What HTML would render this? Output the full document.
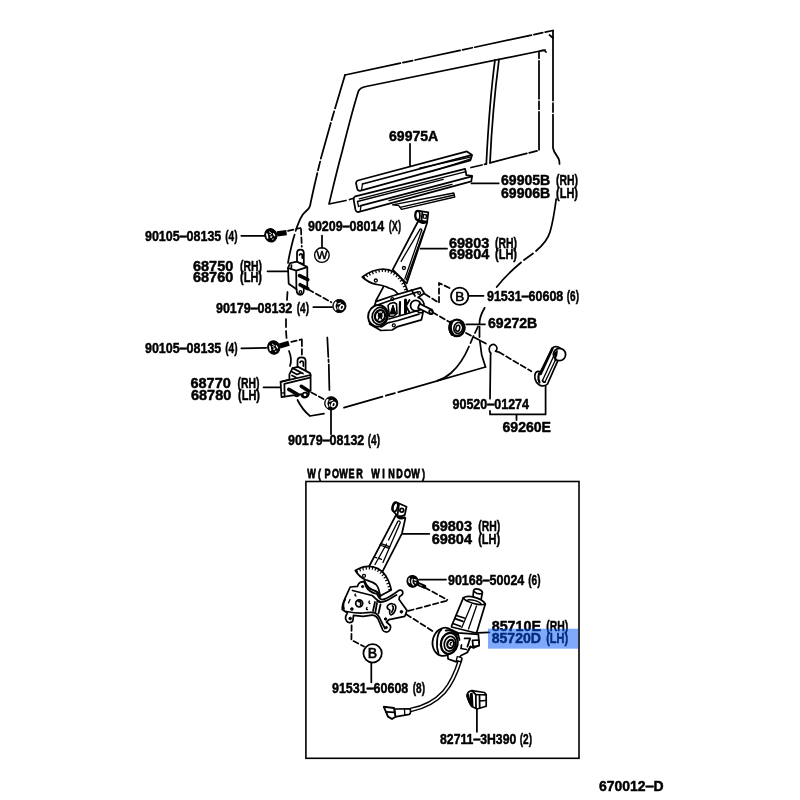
<!DOCTYPE html>
<html lang="en">
<head>
<meta charset="utf-8">
<title>Rear door window regulator &amp; hinge – parts diagram 670012-D</title>
<style>
html,body{margin:0;padding:0;background:#fff;}
body{width:800px;height:800px;overflow:hidden;font-family:"Liberation Sans",sans-serif;}
svg{display:block;will-change:transform;}
.t{font-family:"Liberation Sans",sans-serif;font-weight:bold;font-size:13.8px;fill:#000;stroke:#000;stroke-width:.45px;stroke-linejoin:round;}
.m{font-family:"Liberation Sans",sans-serif;font-weight:bold;font-size:13.7px;fill:#000;stroke:#000;stroke-width:.8px;}
.l{fill:none;stroke:#000;stroke-width:1.75;stroke-linecap:round;stroke-linejoin:round;}
.th{fill:none;stroke:#000;stroke-width:1.3;stroke-linecap:round;stroke-linejoin:round;}
.k{fill:none;stroke:#000;stroke-width:2.2;stroke-linecap:round;stroke-linejoin:round;}
.w{fill:#fff;stroke:#000;stroke-width:1.75;stroke-linejoin:round;stroke-linecap:round;}
.b{fill:#000;stroke:#000;stroke-width:1;stroke-linejoin:round;}
</style>
</head>
<body>
<svg width="800" height="800" viewBox="0 0 800 800">
<rect x="0" y="0" width="800" height="800" fill="#fff"/>

<!-- ===== highlight ===== -->


<!-- ===== DOOR OUTLINE ===== -->
<g id="door" class="l">
<!-- outer top -->
<path d="M553,30.5 L345,75" stroke-dasharray="8 2.5 9 2.5 58 2.5 10 2.5 46 2.5 10 2.5 100"/>
<!-- outer left upper -->
<path d="M345,75 C338,98 328,132 321,158 C316,178 312,196 310,206 C309,210 305,211 302.5,215 C298,222 296,230 293,240 C291,248 289,256 288,263" stroke-dasharray="35 3 9 3 37 3 9 3 63 4 200"/>
<!-- left between hinges -->
<path d="M287.5,292 L287,300 M286,319 L286,327 M286,331 L286.5,338"/>
<path d="M289,351 C291,356 291.5,362 290,366"/>
<!-- bottom-left corner -->
<path d="M297.5,400 C301,407 305,412 310,416 L324,413.7"/>
<!-- bottom -->
<path d="M344,407.7 L485.5,367" stroke-dasharray="40 3.5 9.5 3.5 300"/>
<!-- right lower -->
<path d="M485.5,367 L481.7,355 L479.7,340 M479.5,337 L479.5,326.5 M479.5,323.5 C479.5,318 481.5,313 484.7,307.7"/>
<path d="M478,326.5 L475,333 M473.5,336 L470.5,343 M469,346.5 C465,356 459,366 451,373 C447,376.5 443,379 437.5,380.7" />
<!-- right side -->
<path d="M553,30.5 L553,148 C554,154 558.5,156 559.3,161 L559.5,164" stroke-dasharray="70 2.5 9 2.5"/>
<path d="M556.2,199 C554.5,212 553,222 550,232 C548,239 543,245 536,251"/>
<path d="M533,253.5 L524,260 M521,262.5 C512,270 503,279 496.7,287"/>
<path d="M549.5,35 L553,38"/>
<!-- inner window frame -->
<path d="M545,50 L366,86.5 C362,87.3 360,88 358.5,91 C353,108 347,132 342,152 C337,170 332,192 329,204 L346,200.5 M349.5,199.5 L354.5,198" />
<path d="M471,167.5 L482,165 M484.5,164.3 L486.5,163.8"/>
<path d="M495,60 C491,90 488,130 486.3,164"/>
<path d="M499,59.5 C495,90 491.5,130 490,162.8"/>
<path d="M490,162.8 L539,150.3 L539,52.5" stroke-dasharray="38 2.5 8 2.5"/>
<path d="M540,51 C543,50 545,50.5 546,52"/>
</g>

<!-- ===== LEADERS ===== -->
<g id="leaders" class="l">
<path d="M410,143.8 L410,165.5"/>
<path d="M471.5,183.4 L498.7,183.4"/>
<path d="M420.5,248.7 L447,248.7"/>
<circle cx="459.7" cy="296.3" r="8.7"/>
<path d="M468.6,295.8 L483.5,295.8"/>
<path d="M466.3,324.3 L485,324.3"/>
<path d="M490.6,353.7 L490,398.7 M490,410.8 L490,414.4 L545.6,414.4 L545.6,385.5 M516.5,414.4 L516.5,420"/>
<path d="M322,235.6 L322,247.8"/>
<circle cx="321.9" cy="255.1" r="7.3" style="stroke-width:1.4"/>
<path d="M241.3,235.8 L264.8,235.8"/>
<path d="M267.5,271.3 L287.5,271.3"/>
<path d="M313.3,307 L332,307"/>
<path d="M241.3,348.3 L266.2,347.8"/>
<path d="M263.5,387.3 L281.5,387.3"/>
<path d="M331,410 L331,434.3"/>
<path d="M402.3,533.8 L429.3,533.8"/>
<path d="M419,579.6 L446,579.6"/>
<path d="M477,632.9 L489.4,632.3"/>
<circle cx="372.6" cy="653.3" r="9.2"/>
<path d="M371.3,662.7 L371.3,682.3"/>
<path d="M476.9,709 L476.9,731.8"/>
<!-- dashed -->
<g stroke-dasharray="5.5 3">
<path d="M288,230.8 L300.4,228 M301,229 L301.8,246.6"/>
<path d="M308.5,289.5 L331.3,302.3"/>
<path d="M291.3,341.9 L301.9,339.4 M301.9,340.5 L301.9,355"/>
<path d="M311.3,392.5 L323.5,399"/>
<path d="M449.5,288 L439,283 L439,302.8 L424.7,294"/>
<path d="M432.5,312.3 L449.5,322"/>
<path d="M466,333 L488.5,345"/>
<path d="M498.8,352 L531.3,371.3"/>
<path d="M424.8,587.5 L447.4,599.9 M446.5,600.8 L408.3,610.9 M406.2,614.3 L434.4,632.2"/>
<path d="M351.6,625.3 L351.4,640 L364,646.5"/>
</g>
<path d="M327.3,337.5 L328.3,357 M328.5,359.5 L328.6,362 M328.8,364.5 L329.4,390"/>
</g>

<!-- ===== PARTS ===== -->
<g id="parts">
<!-- ===== weatherstrips ===== -->
<g id="strips">
<!-- third (small) strip -->
<path class="w" d="M392.5,204.8 L453.8,193 L454.8,197 L401.5,209.3 L398.8,205.6 Z" style="stroke-width:1.3"/>
<path class="th" d="M400,207.3 L454.2,195"/>
<!-- lower strip -->
<path class="w" d="M355.3,196.3 L465.1,168.9 L466.4,175.2 L472.1,175.9 L471.3,181.3 L358,212.2 C356,211.8 355.6,211 355.4,209.5 L353.7,199.8 C353.7,198 354.3,196.8 355.3,196.3 Z"/>
<path class="th" d="M359.3,198.8 L466,171.6"/>
<path class="th" d="M357.5,201.5 L443.3,179.3"/>
<path class="l" d="M361,205.6 L472,176.3"/>
<path class="th" d="M389,200.6 L452,184.3"/>
<path class="th" d="M361,205.6 L360.3,210.5"/>
<path class="th" d="M357.5,201.5 L358.5,206.5 L361,205.6"/>
<!-- upper strip -->
<path class="w" d="M357.8,180.5 L466.9,151.4 L472.1,154.9 L470.4,160.3 L359.8,190.9 C358,190.6 357.5,190 357.3,189 L356,183.3 C356.1,181.8 356.8,180.9 357.8,180.5 Z"/>
<path class="l" d="M362.5,184 L471.3,155.2"/>
<path class="th" d="M362.5,184 L361.6,189.5"/>
<path class="th" d="M419.6,168.2 L470.4,157.2"/>
<path class="th" d="M430,172 L470.8,158.8"/>
</g>

<!-- ===== regulator (manual) ===== -->
<g id="reg1">
<!-- arm -->
<path class="w" d="M418,221.5 L392.7,269.7 L406.7,283.5 L427.2,222.5 Z"/>
<path class="th" d="M419.7,229.8 L401.1,261.3"/>
<path class="th" d="M419.7,229.8 C420.3,228.6 421.6,228.7 421.8,230 L404.8,279"/>
<path class="th" d="M423.5,231.5 L406.3,280"/>
<circle class="th" cx="403.9" cy="268" r="1.5"/>
<!-- roller -->
<path class="w" d="M417.4,210.7 L428.3,212.4 L427.2,221.6 L418,220.4 C415,219.5 414.6,212 417.4,210.7 Z"/>
<ellipse class="l" cx="417.5" cy="215.4" rx="2.4" ry="4.6"/>
<path class="l" d="M422.3,212.5 L421.5,220.5"/>
<rect class="th" x="423.3" y="214.6" width="3" height="3.6" transform="rotate(8 424.8 216.4)"/>
<path class="k" d="M419.5,221.3 C421,223 424,223.5 426,222.3"/>
<!-- sector -->
<path class="w" d="M362.3,277 C368,272.5 376,269.3 383,269 C392,269 399,274.5 403.4,281.4 C405.5,285 406.8,288.5 407.6,291.5 L399,296 C397,292 394,289 388.7,288 C385.5,285.8 380,285 376.4,284.4 C371,283.3 366,280.5 362.3,277 Z"/>
<path class="l" d="M383.7,286.4 L375.8,301"/>
<circle class="th" cx="375.8" cy="280.5" r="1.5"/>
<clipPath id="cs1"><path d="M362.3,277 C368,272.5 376,269.3 383,269 C392,269 399,274.5 403.4,281.4 C405.5,285 406.8,288.5 407.6,291.5 L399,296 C397,292 394,289 388.7,288 C385.5,285.8 380,285 376.4,284.4 C371,283.3 366,280.5 362.3,277 Z"/></clipPath>
<path d="M362.3,277 C368,272.5 376,269.3 383,269 C392,269 399,274.5 403.4,281.4 C405.5,285 406.8,288.5 407.6,291.5" fill="none" stroke="#000" stroke-width="6" stroke-dasharray="1.25 2.15" stroke-dashoffset="-4" clip-path="url(#cs1)"/>
<!-- base -->
<path class="w" d="M375.8,301.6 L392.1,296 L420.8,287.6 L424.3,293.2 L418,297.5 C421,298.5 423.3,301 424,304 L422.5,315.1 L421.4,319.8 L397.7,326.6 L392.1,330 L380.9,330.5 L369.6,324.1 Z"/>
<path class="l" d="M377.5,305 L393,299.5 L417.5,292"/>
<path class="l" d="M411.5,289.9 L415,296"/>
<circle class="th" cx="419.2" cy="293" r="1.4"/>
<circle class="th" cx="392.3" cy="299" r="1.4"/>
<!-- gear housing -->
<ellipse class="w" cx="378" cy="315.8" rx="9.8" ry="10.9" transform="rotate(18 378 315.8)" style="stroke-width:2"/>
<ellipse class="l" cx="379.6" cy="316" rx="7.3" ry="8.6" transform="rotate(18 379.6 316)"/>
<ellipse class="l" cx="380" cy="316" rx="5" ry="6" transform="rotate(18 380 316)" style="stroke-width:2.2"/>
<ellipse class="b" cx="380.2" cy="315.6" rx="2" ry="2.6"/>
<path class="th" d="M377,311 L383,321 M383,311.5 L377.5,320.5"/>
<!-- mid section -->
<path class="k" d="M388,305.5 L390,303.5 L394,302.5 L396.5,304 L397,313.5 L394,316 L389.5,316.5 Z" style="stroke-width:1.6"/>
<path class="b" d="M393,305 L390,314 L396,314 Z"/>
<path class="k" d="M400,302 L399.7,314.5" style="stroke-width:2.2"/>
<path class="k" d="M405.5,300 L405.5,313" style="stroke-width:3"/>
<path class="k" d="M409.5,300 L406,306 L409.5,312.5" style="stroke-width:1.8"/>
<path class="l" d="M389,319 L411,312.5 L421.5,309.5"/>
<path class="l" d="M389.5,322.5 L398,320.5 L419,314.2"/>
<circle class="th" cx="393.8" cy="325.3" r="1.5"/>
<path class="l" d="M381,327 C384,326 386,323 389,322.5"/>
<!-- motor boss + shaft -->
<circle class="w" cx="415.7" cy="305.6" r="5.2"/>
<path class="w" d="M419.6,303.8 L431.6,309.6 C433.8,310.8 432.6,314.8 430,314 L418,308 Z"/>
<ellipse class="l" cx="431" cy="312" rx="1.5" ry="2.2" transform="rotate(-25 431 312)"/>
<path class="l" d="M417,311 C419,313 422,313.5 423.3,311.5"/>
</g>

<!-- ===== upper bolt ===== -->
<g id="bolt1">
<path class="k" d="M277,233.8 L286.6,232.6" style="stroke-width:5.2;stroke-linecap:butt"/>
<g transform="translate(270.8 235.3)">
<ellipse class="b" cx="0" cy="0" rx="6" ry="6.8" transform="rotate(-20)"/>
<path d="M-3.9,-1.2 L-3.2,2.6" stroke="#fff" stroke-width="1.7" fill="none" stroke-linecap="round"/>
<path d="M-1.4,-3.4 L0.8,-1.8" stroke="#fff" stroke-width="0.9" fill="none" stroke-linecap="round"/>
<path d="M-0.6,1.6 L0.6,2.6 L1.4,0.6 Z" fill="#fff" stroke="#fff" stroke-width="0.5"/>
<path d="M2.6,-1.6 L3.8,0.4" stroke="#fff" stroke-width="1.3" fill="none" stroke-linecap="round"/>
<path d="M-1,-0.8 L0,-0.4" stroke="#fff" stroke-width="1" fill="none" stroke-linecap="round"/>
<path d="M1.6,4 L2.6,3.6" stroke="#fff" stroke-width="0.8" fill="none" stroke-linecap="round"/>
</g>
</g>
<!-- ===== upper hinge ===== -->
<g id="hinge1">
<path class="w" d="M297,262 L297,253 C297,248.5 303.8,248.5 303.8,253 L303.8,264 Z"/>
<path class="l" d="M299.5,255 C300,253.5 302,253.5 302.3,255 L302.3,258"/>
<path class="w" d="M288,268 L290.1,263.2 L297,261.7 L306.6,266.6 L307.3,267.4 L307.3,286.5 L303.5,288 C304.5,291 303.5,294.6 300.4,294.8 C297.5,294.6 296.5,292 296.6,289.2 L288.7,283.8 Z"/>
<path class="l" d="M288,268 L296.2,270.7 L307.2,267.2 M296.2,270.7 L296.4,289.2"/>
<path class="l" d="M291.5,265.2 L291.2,268.8"/>
<circle class="th" cx="300.4" cy="292" r="1.3"/>
<path class="k" d="M299.6,275.6 L307.7,279.6" style="stroke-width:3.7"/>
<path class="k" d="M300.2,284.8 L307.7,288.6" style="stroke-width:3.7"/>
</g>
<!-- ===== upper nut ===== -->
<g id="nut1" transform="translate(339.4 306)">
<circle class="b" cx="0" cy="0" r="6.6"/>
<path d="M-3.6,-3.4 C-4.9,-1.5 -4.9,1.5 -3.7,3.4" stroke="#fff" stroke-width="1.9" fill="none" stroke-linecap="round"/>
<ellipse cx="2.3" cy="1.2" rx="2.5" ry="3.1" transform="rotate(25 2.3 1.2)" fill="#fff" stroke="none"/>
<ellipse cx="2.4" cy="1.3" rx="1" ry="1.6" transform="rotate(25 2.4 1.3)" fill="#000" stroke="none"/>
<path d="M-1.4,-2 L1.2,-3" stroke="#fff" stroke-width="1.2" fill="none" stroke-linecap="round"/>
<path d="M-1.6,1 L-1.4,3" stroke="#fff" stroke-width="1" fill="none" stroke-linecap="round"/>
</g>

<!-- ===== lower bolt ===== -->
<g id="bolt2">
<path class="k" d="M279.6,346 L289,343.3" style="stroke-width:5.2;stroke-linecap:butt"/>
<g transform="translate(273.7 347.5)">
<ellipse class="b" cx="0" cy="0" rx="6" ry="6.8" transform="rotate(-20)"/>
<path d="M-3.9,-1.2 L-3.2,2.6" stroke="#fff" stroke-width="1.7" fill="none" stroke-linecap="round"/>
<path d="M-1.4,-3.4 L0.8,-1.8" stroke="#fff" stroke-width="0.9" fill="none" stroke-linecap="round"/>
<path d="M-0.6,1.6 L0.6,2.6 L1.4,0.6 Z" fill="#fff" stroke="#fff" stroke-width="0.5"/>
<path d="M2.6,-1.6 L3.8,0.4" stroke="#fff" stroke-width="1.3" fill="none" stroke-linecap="round"/>
<path d="M-1,-0.8 L0,-0.4" stroke="#fff" stroke-width="1" fill="none" stroke-linecap="round"/>
<path d="M1.6,4 L2.6,3.6" stroke="#fff" stroke-width="0.8" fill="none" stroke-linecap="round"/>
</g>
</g>
<!-- ===== lower hinge ===== -->
<g id="hinge2">
<path class="w" d="M297.5,368.5 L297.5,361 C297.5,356.3 305.6,356.3 305.6,361 L305.6,371 Z"/>
<path class="l" d="M300,362.5 C300.5,360.5 303,360.5 303.4,362.5 L303.4,366"/>
<path class="w" d="M289.4,379.5 L289.4,374.4 L292.5,368.1 L298.1,366.9 L310,373.1 L310.6,375 L310.6,390.5 L308.5,392 C309.5,394 308,397.5 305,397.6 C302.5,397.5 301.3,396 301.3,394.2 L299.5,394.3 C299,396.5 296,397 294.3,395.2 L281.5,397.2 L280.6,381.9 Z"/>
<path class="l" d="M280.6,381.9 L310.6,375 M284.4,383.8 L310,377.6 M284.4,383.8 L284.6,396.5"/>
<path class="l" d="M292.5,368.1 L303,373.5 M291.5,371.5 L297,374.5 L301.5,372.8 M292,375.5 L296,377.5"/>
<path class="k" d="M301.3,386.3 L308.6,391" style="stroke-width:3.6"/>
<path class="k" d="M288.8,389.4 L297.4,394.3" style="stroke-width:3.6"/>
<circle class="l" cx="305" cy="394.8" r="2.3"/>
<path class="th" d="M281.6,393.2 L284.6,392.7"/>
</g>
<!-- ===== lower nut ===== -->
<g id="nut2" transform="translate(331.2 403.3)">
<circle class="b" cx="0" cy="0" r="6.6"/>
<path d="M-3.6,-3.4 C-4.9,-1.5 -4.9,1.5 -3.7,3.4" stroke="#fff" stroke-width="1.9" fill="none" stroke-linecap="round"/>
<ellipse cx="2.3" cy="1.2" rx="2.5" ry="3.1" transform="rotate(25 2.3 1.2)" fill="#fff" stroke="none"/>
<ellipse cx="2.4" cy="1.3" rx="1" ry="1.6" transform="rotate(25 2.4 1.3)" fill="#000" stroke="none"/>
<path d="M-1.4,-2 L1.2,-3" stroke="#fff" stroke-width="1.2" fill="none" stroke-linecap="round"/>
<path d="M-1.6,1 L-1.4,3" stroke="#fff" stroke-width="1" fill="none" stroke-linecap="round"/>
</g>

<!-- ===== grommet 69272B ===== -->
<g id="grommet">
<ellipse class="w" cx="457" cy="327.8" rx="7.6" ry="8.2" style="stroke-width:2.4"/>
<path class="k" d="M451.3,322.3 C449.6,326 449.9,331 452.3,334.2" style="stroke-width:3.6"/>
<ellipse class="l" cx="458.3" cy="328" rx="4.4" ry="5.6" transform="rotate(14 458.3 328)" style="stroke-width:1.7"/>
<ellipse class="l" cx="457.8" cy="328.3" rx="1.9" ry="3.1" transform="rotate(14 457.8 328.3)" style="stroke-width:1.5"/>
<path class="k" d="M461.5,323.5 C463,325 463.6,327 463.5,329" style="stroke-width:2.4"/>
</g>
<!-- ===== clip ===== -->
<path class="l" d="M490.8,353 C488.5,351.5 488.6,346.5 491.3,345 C494,343.5 497.3,345.5 497,348.8 C496.8,350 496.3,350.7 495.5,351.2 L497.8,352" style="stroke-width:1.7"/>
<!-- ===== handle ===== -->
<g id="handle">
<path class="w" d="M552.3,348.3 C554,346 558,346.5 560,348 L557.5,361.3 L547.5,384 C545,386.5 541,386.5 538.8,384.6 C535,382 533.8,376 535.5,373 C536.5,371.2 539,370.8 540.5,372 Z"/>
<circle class="w" cx="559.5" cy="354.5" r="6.1"/>
<path class="k" d="M552.3,348.6 L540.6,374" style="stroke-width:2.6"/>
<path class="th" d="M555.3,352.5 L542.5,380.5"/>
<path class="th" d="M555.3,360.3 L545,382"/>
<path class="l" d="M555.3,352.5 C555.5,355 555.5,358 555.3,360.3"/>
<path class="l" d="M542.5,380.5 C543,382 544,382.5 545,382"/>
<path class="k" d="M540.5,372 C538,373.5 537.8,379 539.5,382.5"/>
<path class="l" d="M557,351 L556.3,356"/>
</g>
</g>

<!-- ===== LOWER BOX ===== -->
<g id="box">
<rect x="305.9" y="481.5" width="273.1" height="276.8" class="l" style="stroke-width:1.6;stroke-linejoin:miter"/>
<!-- ===== regulator (power) ===== -->
<g id="reg2">
<!-- arm -->
<path class="w" d="M395.8,515.3 L368.8,567 L381.8,572.8 L402,533.3 L405.4,518.1 Z"/>
<path class="th" d="M397.5,522 C398,520.3 400,520.3 400.3,522.6 L383,562.5"/>
<path class="th" d="M397.5,522 L388.5,540 M386.5,544 L375,564.5"/>
<path class="th" d="M380.6,543.4 L389.8,546.8 M380,545 L389,548.3"/>
<path class="th" d="M373.9,556.9 L383,559.8" stroke-dasharray="3 2"/>
<!-- roller -->
<path class="w" d="M396.4,502.3 L406.5,506.8 L404.8,514.9 L402,516 L397.5,515.8 L393.5,511.5 C392,508 393.5,503 396.4,502.3 Z"/>
<ellipse class="l" cx="394.9" cy="506.9" rx="2.6" ry="4.8" transform="rotate(15 394.9 506.9)"/>
<circle class="l" cx="401.8" cy="510.2" r="1.9"/>
<path class="l" d="M399,504.3 L397.5,515"/>
<path class="k" d="M397.5,516.8 C399.5,518.5 402.5,518.6 404.5,517.3"/>
<!-- sector -->
<path class="w" d="M355.3,570.5 C361,567 368,565.8 373,566.9 C380,568.5 385.5,574 388.3,580.5 C389.8,584 390.8,587 391.3,590 L380,596 C379.5,591.5 378.5,587 376,584.5 C373,582 369,581 365.4,579.7 C361.5,578 358,575 355.3,570.5 Z"/>
<circle class="th" cx="364" cy="575.8" r="1.5"/>
<clipPath id="cs2"><path d="M355.3,570.5 C361,567 368,565.8 373,566.9 C380,568.5 385.5,574 388.3,580.5 C389.8,584 390.8,587 391.3,590 L380,596 C379.5,591.5 378.5,587 376,584.5 C373,582 369,581 365.4,579.7 C361.5,578 358,575 355.3,570.5 Z"/></clipPath>
<path d="M355.3,570.5 C361,567 368,565.8 373,566.9 C380,568.5 385.5,574 388.3,580.5 C389.8,584 390.8,587 391.3,590" fill="none" stroke="#000" stroke-width="6" stroke-dasharray="1.25 2.15" stroke-dashoffset="-4" clip-path="url(#cs2)"/>
<!-- inner arcs -->
<path class="k" d="M364.5,581 C366,586 370,589.5 376,591.3 C378,592.3 379.5,594 380.3,596.5"/>
<path class="l" d="M362,583.5 C364,589 368,592.5 374,594"/>
<!-- plate -->
<path class="w" d="M350.2,587 L357.5,586.4 C358,583.5 360.5,581.5 364,581.5 L366,586.5 C368,590.5 372,592.8 377,594 C378.5,597 380,599.4 382,599.6 C386,599.8 392,595 395.8,592.6 L398,591 C399.5,589.5 402.5,590 402.8,592.2 C403,594.5 401,596 399.5,596.5 L399.1,599.4 L407,610.6 L404.8,616.3 L389,619.6 L386.5,622 L390.3,625.5 C391.5,628 389.5,632 386.8,632 C384.5,632 382.5,630.5 382.3,629 L377.8,618.5 C376,616 374,615 372.1,615.1 L363.1,616.3 L353.5,615.3 L352.8,621 C351.5,623 348,623 346.8,621.3 C345.5,619.5 345.3,617.5 345.7,616.3 L347.4,612.9 L342.3,609.5 C342,606 343.5,602 344.6,599.4 Z"/>
<path class="l" d="M352.5,590.5 L372.1,595.5 C375,597.5 377.5,601.3 381,602 C386,602.5 391,598 396.5,595"/>
<path class="l" d="M346.5,611.5 C352,612.5 358,613.3 363.1,613 C368,612.3 372,611.8 375,613 C378,614.5 380,618 381.5,622 L385,628.5"/>
<circle class="l" cx="359.2" cy="603.3" r="3.5"/>
<path class="l" d="M358.5,601.5 C360.5,601 361.3,603 360.5,605"/>
<path class="l" d="M387.3,606.5 C388,604 391.5,603.3 392.5,604 C395.5,603.8 396.5,606.5 395.5,609.5 C394.5,612.5 393,614.5 391,614.8 C389.5,614.5 389.5,612 389.8,610 C388,609.5 387,608 387.3,606.5 Z" style="stroke-width:1.7"/>
<path class="l" d="M392.5,606 C393.8,606.5 393.5,609.5 391.8,612"/>
<circle class="b" cx="351.9" cy="609" r="1.3"/>
<circle class="b" cx="350.2" cy="618.5" r="1.3"/>
<circle class="b" cx="401.4" cy="611.8" r="1.3"/>
<circle class="b" cx="385.6" cy="619" r="1.2"/>
<circle class="b" cx="362.6" cy="586.6" r="1.1"/>
<circle class="b" cx="386.3" cy="627.5" r="1.1"/>
<path class="l" d="M375,602 L373,611 M377,603 L375.3,612.5 M380.5,604.5 L378.5,613.5"/>
<path class="th" d="M355.5,594 C354.5,594.5 354.8,596 356,596 M369.5,601 C368.5,601.5 368.8,603.5 370,603.5 M367,607.5 C366,608 366.3,609.7 367.5,609.5 M350,599.5 L348.5,603 M377,601.5 L381,602.5"/>
<path class="l" d="M345.2,599.5 C343.5,602 343,606 344,609"/>
</g>
<!-- ===== screw ===== -->
<g id="screw">
<path class="k" d="M416,583 L424.3,586.7" style="stroke-width:4"/>
<path d="M419.5,584 L420.5,585.6 M421.5,585.3 L422,586.3" stroke="#fff" stroke-width="0.7" fill="none"/>
<ellipse class="b" cx="412.6" cy="581.4" rx="5.6" ry="5.9" transform="rotate(-30 412.6 581.4)"/>
<path d="M409.3,578.5 C408.6,580 408.8,581.5 409.5,582.6" stroke="#fff" stroke-width="1.3" fill="none" stroke-linecap="round"/>
<path d="M412.3,579.3 C411.2,581 411.8,584 413.6,585 M414.3,579.6 L416,580.2 M415,582.5 L415.8,583" stroke="#fff" stroke-width="1.3" fill="none" stroke-linecap="round"/>
</g>
<!-- ===== motor ===== -->
<g id="motor">
<!-- top nub -->
<path class="w" d="M473,597 L473.6,590.5 C474.5,587.8 481.5,589 482.4,592.5 L481,600 Z"/>
<path class="l" d="M474.5,591.8 C476.5,593.5 479.5,594.3 482,593.5"/>
<!-- cylinder -->
<path class="w" d="M463.3,597.8 C468,594.5 482,598 485.3,604 L477,631.5 L476,633 L451.6,627 L451.6,626 Z"/>
<path class="l" d="M463.3,597.8 C464.5,601.5 480,606.5 485.3,604"/>
<path class="th" d="M466.5,600.5 C470,598.5 479,601 481.5,604.3"/>
<path class="th" d="M471.5,604.5 L461.8,627.5"/>
<path class="th" d="M476.5,606 L468.5,629"/>
<path class="l" d="M456.3,615.5 L464.3,618 M455,618.7 L463,621.3"/>
<path class="l" d="M452.8,623.5 L460.5,626.3"/>
<!-- gearbox -->
<path class="w" d="M452,630 L457.8,632.9 L478.4,634.3 L478.8,640 L479.2,645.5 L473.5,648 L470.5,646.5 L467.3,652.5 L461,655.5 L456.4,661.8 L448.1,659 L447.5,653 Z"/>
<path class="w" d="M472.5,640.3 L478.8,640 L479.2,645.5 L473,646.5 Z"/>
<path class="l" d="M464.6,638.4 L470.2,638.4 L467.4,646.6 M461.5,645 L461,648.5 L466.5,649.5"/>
<path class="l" d="M457.8,632.9 L459.5,640 M470.5,646.5 L468.5,650"/>
<!-- housing -->
<ellipse class="w" cx="444.3" cy="641.8" rx="11.6" ry="14.2" transform="rotate(14 444.3 641.8)" style="stroke-width:1.8"/>
<path class="l" d="M441.5,629.5 C437,633 435.5,645 438.5,653.5"/>
<ellipse class="w" cx="449.3" cy="643.3" rx="8.3" ry="10.6" transform="rotate(14 449.3 643.3)" style="stroke-width:2.3"/>
<ellipse class="l" cx="450" cy="643.8" rx="5.7" ry="7.4" transform="rotate(14 450 643.8)"/>
<ellipse class="l" cx="450.6" cy="644" rx="3.3" ry="4.2" transform="rotate(14 450.6 644)" style="stroke-width:2.2"/>
<path class="th" d="M451.5,642.5 C450,642.5 449.5,644.5 451,645.3"/>
<path class="k" d="M446,630.5 C450,629.5 455,631.5 457.5,635"/>
<!-- cable -->
<path class="l" d="M460.3,659.5 C457,670 452,683 444,692 C435,702 423,707.5 410.6,710" style="stroke-width:4.6"/>
<path d="M460.3,659.5 C457,670 452,683 444,692 C435,702 423,707.5 410.6,710" fill="none" stroke="#fff" stroke-width="1.8"/>
<path class="w" d="M457.3,656.5 L462,658 L460.8,661.8 L456.3,660.3 Z" style="stroke-width:1.3"/>
<!-- connector -->
<path class="w" d="M394.5,709 L409.5,708.8 C411,709.5 411,713.5 409.3,714.3 L395,716.8 Z"/>
<path class="th" d="M404.5,709 L404.8,715"/>
<path class="w" d="M383.8,706.8 L394,708 L395.5,716.8 L392,719 L388,716.6 L386,711.8 Z" style="stroke-width:1.9"/>
<path class="l" d="M386,711.8 L394.5,712.3"/>
</g>
<!-- ===== clip 82711 ===== -->
<g id="clip2">
<path class="w" d="M467,696.5 C467,693 469,691 472,690.6 L484.5,692.5 L486.2,694.5 L486.2,706.3 L477,709 L472.5,706.8 L469.5,702.8 Z" style="stroke-width:1.7"/>
<path class="k" d="M471.3,694.3 L472,705.8" style="stroke-width:3"/>
<path class="l" d="M475.8,694.5 L476,708 M479.5,695 L479.7,707.8 M479.6,701 L485.5,700.5 M472,690.8 L475.8,694.5 L486,694.8"/>
<path class="k" d="M467.8,695 C468.5,699 469.5,702 471,704.5" style="stroke-width:2.6"/>
</g>
</g>

<!-- ===== TEXT ===== -->
<g id="labels" class="t">
<text x="389" y="141.3" textLength="49.3" lengthAdjust="spacingAndGlyphs">69975A</text>
<text y="184.8"><tspan x="501" textLength="49.3" lengthAdjust="spacingAndGlyphs">69905B</tspan> <tspan x="556" textLength="22" lengthAdjust="spacingAndGlyphs">(RH)</tspan></text>
<text y="197.8"><tspan x="501" textLength="49.3" lengthAdjust="spacingAndGlyphs">69906B</tspan> <tspan x="556" textLength="22" lengthAdjust="spacingAndGlyphs">(LH)</tspan></text>
<text y="247.5"><tspan x="449" textLength="40.3" lengthAdjust="spacingAndGlyphs">69803</tspan> <tspan x="495" textLength="22" lengthAdjust="spacingAndGlyphs">(RH)</tspan></text>
<text y="259.3"><tspan x="449" textLength="40.3" lengthAdjust="spacingAndGlyphs">69804</tspan> <tspan x="495" textLength="22" lengthAdjust="spacingAndGlyphs">(LH)</tspan></text>
<text y="301"><tspan x="487" textLength="76.3" lengthAdjust="spacingAndGlyphs">91531‒60608</tspan> <tspan x="566.7" textLength="12.3" lengthAdjust="spacingAndGlyphs">(6)</tspan></text>
<text x="488" y="328" textLength="49.3" lengthAdjust="spacingAndGlyphs">69272B</text>
<text x="452.5" y="409" textLength="76.5" lengthAdjust="spacingAndGlyphs">90520‒01274</text>
<text x="502.5" y="432" textLength="48.5" lengthAdjust="spacingAndGlyphs">69260E</text>
<text y="231.3"><tspan x="308" textLength="76.3" lengthAdjust="spacingAndGlyphs">90209‒08014</tspan> <tspan x="388.7" textLength="12.3" lengthAdjust="spacingAndGlyphs">(X)</tspan></text>
<text y="241"><tspan x="145" textLength="76.3" lengthAdjust="spacingAndGlyphs">90105‒08135</tspan> <tspan x="225.2" textLength="12.3" lengthAdjust="spacingAndGlyphs">(4)</tspan></text>
<text y="270.5"><tspan x="193" textLength="40.3" lengthAdjust="spacingAndGlyphs">68750</tspan> <tspan x="240" textLength="22" lengthAdjust="spacingAndGlyphs">(RH)</tspan></text>
<text y="282"><tspan x="193" textLength="40.3" lengthAdjust="spacingAndGlyphs">68760</tspan> <tspan x="240" textLength="22" lengthAdjust="spacingAndGlyphs">(LH)</tspan></text>
<text y="312.7"><tspan x="216" textLength="76.3" lengthAdjust="spacingAndGlyphs">90179‒08132</tspan> <tspan x="296.7" textLength="12.3" lengthAdjust="spacingAndGlyphs">(4)</tspan></text>
<text y="353"><tspan x="145" textLength="76.3" lengthAdjust="spacingAndGlyphs">90105‒08135</tspan> <tspan x="225.2" textLength="12.3" lengthAdjust="spacingAndGlyphs">(4)</tspan></text>
<text y="388"><tspan x="190.5" textLength="40.3" lengthAdjust="spacingAndGlyphs">68770</tspan> <tspan x="237.5" textLength="22" lengthAdjust="spacingAndGlyphs">(RH)</tspan></text>
<text y="399.7"><tspan x="191" textLength="40.3" lengthAdjust="spacingAndGlyphs">68780</tspan> <tspan x="238" textLength="22" lengthAdjust="spacingAndGlyphs">(LH)</tspan></text>
<text y="444.7"><tspan x="288" textLength="76.3" lengthAdjust="spacingAndGlyphs">90179‒08132</tspan> <tspan x="367.7" textLength="12.3" lengthAdjust="spacingAndGlyphs">(4)</tspan></text>
<text y="531"><tspan x="431.7" textLength="40.3" lengthAdjust="spacingAndGlyphs">69803</tspan> <tspan x="478.2" textLength="22" lengthAdjust="spacingAndGlyphs">(RH)</tspan></text>
<text y="543.7"><tspan x="431.7" textLength="40.3" lengthAdjust="spacingAndGlyphs">69804</tspan> <tspan x="478.2" textLength="22" lengthAdjust="spacingAndGlyphs">(LH)</tspan></text>
<text y="584.7"><tspan x="448" textLength="76.3" lengthAdjust="spacingAndGlyphs">90168‒50024</tspan> <tspan x="528.2" textLength="12.3" lengthAdjust="spacingAndGlyphs">(6)</tspan></text>
<text y="631"><tspan x="491.7" textLength="49.3" lengthAdjust="spacingAndGlyphs">85710E</tspan> <tspan x="546.2" textLength="22" lengthAdjust="spacingAndGlyphs">(RH)</tspan></text>
<text y="643"><tspan x="491.7" textLength="49.3" lengthAdjust="spacingAndGlyphs">85720D</tspan> <tspan x="546.2" textLength="22" lengthAdjust="spacingAndGlyphs">(LH)</tspan></text>
<text y="693.3"><tspan x="332" textLength="76.3" lengthAdjust="spacingAndGlyphs">91531‒60608</tspan> <tspan x="412.7" textLength="12.3" lengthAdjust="spacingAndGlyphs">(8)</tspan></text>
<text y="743.7"><tspan x="440" textLength="76.3" lengthAdjust="spacingAndGlyphs">82711‒3H390</tspan> <tspan x="519.7" textLength="12.3" lengthAdjust="spacingAndGlyphs">(2)</tspan></text>
<text x="599" y="791.3" textLength="64.5" lengthAdjust="spacingAndGlyphs">670012‒D</text>
</g>
<g style="font-family:'Liberation Sans',sans-serif;fill:#000;text-anchor:middle">
<text x="321.9" y="259.2" font-size="11.6" stroke="#000" stroke-width="0.55">W</text>
<text x="459.8" y="301" font-size="13.5" stroke="#000" stroke-width="0.65">B</text>
<text x="372.5" y="658.3" font-size="14" stroke="#000" stroke-width="0.65">B</text>
</g>
<rect x="488" y="628.7" width="90.3" height="20" fill="#0055f5" opacity="0.5"/>
<text class="m" transform="scale(0.66,1)" x="472.05 484.15 496.26 508.36 520.47 532.58 544.68 556.79 568.89 581.00 593.11 605.21 617.32 629.42 641.53" y="478.2" text-anchor="middle">W(POWER WINDOW)</text>
</svg>
</body>
</html>
